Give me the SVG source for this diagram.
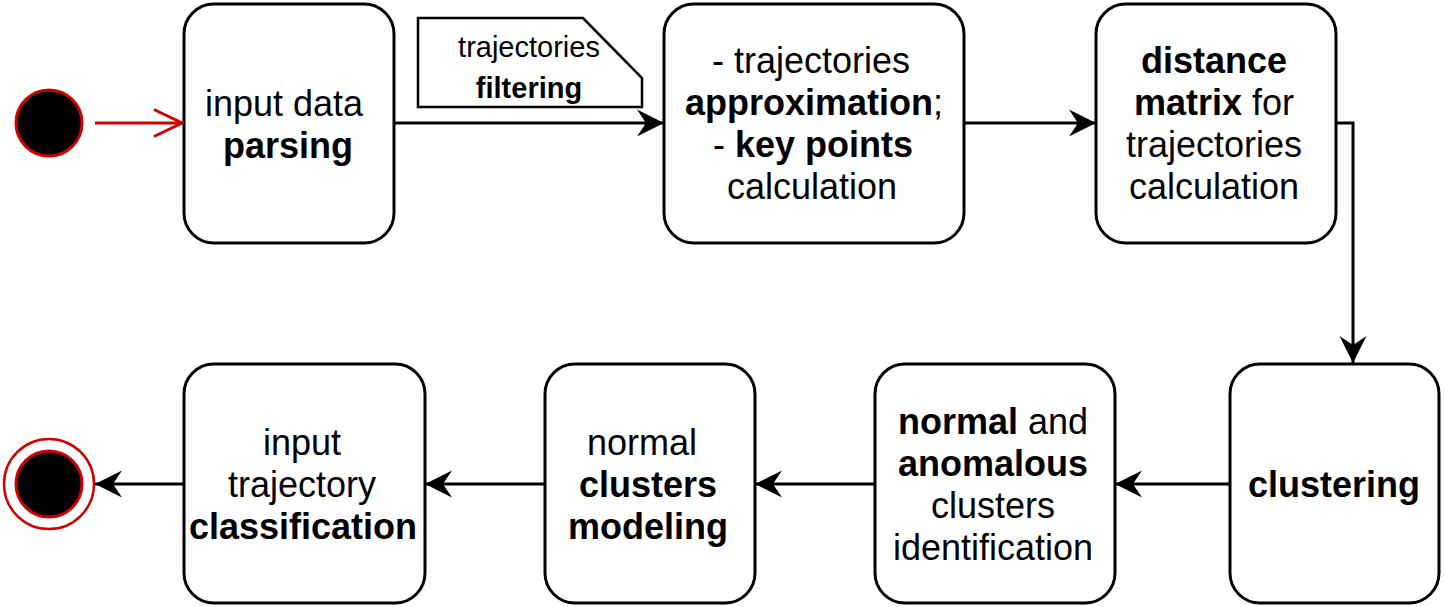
<svg xmlns="http://www.w3.org/2000/svg" width="1445" height="607" viewBox="0 0 1445 607">
<style>
.node{fill:#fff;stroke:#000;stroke-width:3}
.t{font-family:"Liberation Sans",Arial,sans-serif;font-size:36px;text-anchor:middle;fill:#000}
.b{font-weight:bold}
.nt{font-family:"Liberation Sans",Arial,sans-serif;font-size:29px;text-anchor:middle;fill:#000}
.edge{fill:none;stroke:#000;stroke-width:3}
</style>
<defs>
<marker id="arr" markerUnits="userSpaceOnUse" markerWidth="30" markerHeight="30" viewBox="-28 -15 30 30" refX="0" refY="0" orient="auto">
<path d="M0,0 L-27,-13.5 L-18,0 L-27,13.5 Z" fill="#000"/>
</marker>
<marker id="open" markerUnits="userSpaceOnUse" markerWidth="34" markerHeight="34" viewBox="-32 -17 34 34" refX="0" refY="0" orient="auto">
<path d="M-28,-13.5 L0,0 L-28,13.5" fill="none" stroke="#d00000" stroke-width="3"/>
</marker>
</defs>
<g id="start">
<circle cx="49" cy="123" r="33" fill="#000" stroke="#d00000" stroke-width="3"/>
</g>
<g id="end">
<circle cx="49" cy="484" r="45" fill="#fff" stroke="#d00000" stroke-width="2.5"/>
<circle cx="49" cy="484" r="33" fill="#000" stroke="#d00000" stroke-width="3"/>
</g>
<g id="n1">
<rect class="node" x="184" y="4" width="210" height="239" rx="30"/>
<text class="t" x="284" y="116">input data</text>
<text class="t b" x="288" y="158">parsing</text>
</g>
<g id="note">
<path d="M418,18 L583,18 L642,78 L642,107 L418,107 Z" fill="#fff" stroke="#000" stroke-width="2.5"/>
<text class="nt" x="529" y="57">trajectories</text>
<text class="nt b" x="529" y="98">filtering</text>
</g>
<g id="n2">
<rect class="node" x="664" y="4" width="300" height="239" rx="30"/>
<text class="t" x="811" y="73">- trajectories</text>
<text class="t" x="814" y="115"><tspan class="b">approximation</tspan>;</text>
<text class="t" x="813" y="157">- <tspan class="b">key points</tspan></text>
<text class="t" x="812" y="199">calculation</text>
</g>
<g id="n3">
<rect class="node" x="1096" y="4" width="240" height="239" rx="30"/>
<text class="t b" x="1214" y="73">distance</text>
<text class="t" x="1214" y="115"><tspan class="b">matrix</tspan> for</text>
<text class="t" x="1214" y="157">trajectories</text>
<text class="t" x="1214" y="199">calculation</text>
</g>
<g id="n4">
<rect class="node" x="1230" y="364" width="209" height="239" rx="30"/>
<text class="t b" x="1334" y="497">clustering</text>
</g>
<g id="n5">
<rect class="node" x="875" y="364" width="240" height="239" rx="30"/>
<text class="t" x="993" y="434"><tspan class="b">normal</tspan> and</text>
<text class="t b" x="993" y="476">anomalous</text>
<text class="t" x="993" y="518">clusters</text>
<text class="t" x="993" y="560">identification</text>
</g>
<g id="n6">
<rect class="node" x="545" y="364" width="210" height="239" rx="30"/>
<text class="t" x="642" y="455">normal</text>
<text class="t b" x="648" y="497">clusters</text>
<text class="t b" x="648" y="539">modeling</text>
</g>
<g id="n7">
<rect class="node" x="184" y="364" width="241" height="239" rx="30"/>
<text class="t" x="302" y="455">input</text>
<text class="t" x="302" y="497">trajectory</text>
<text class="t b" x="303" y="539">classification</text>
</g>
<g id="connectors">
<path d="M95,123 L182,123" fill="none" stroke="#d00000" stroke-width="3" marker-end="url(#open)"/>
<path class="edge" d="M394,123 L664,123" marker-end="url(#arr)"/>
<path class="edge" d="M964,123 L1096,123" marker-end="url(#arr)"/>
<path class="edge" d="M1336,123 L1353,123 L1353,363" marker-end="url(#arr)"/>
<path class="edge" d="M1230,484 L1115,484" marker-end="url(#arr)"/>
<path class="edge" d="M875,484 L755,484" marker-end="url(#arr)"/>
<path class="edge" d="M545,484 L425,484" marker-end="url(#arr)"/>
<path class="edge" d="M184,484 L95,484" marker-end="url(#arr)"/>
</g>
</svg>
